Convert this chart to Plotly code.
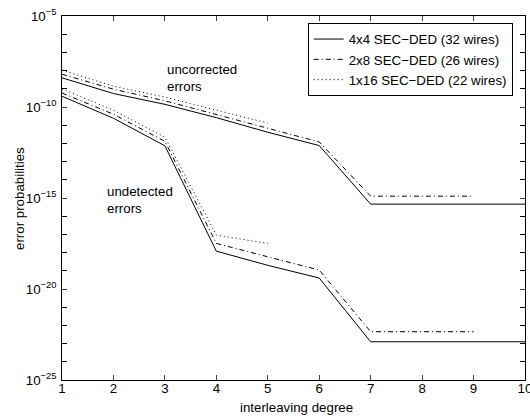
import plotly.graph_objects as go

# interleaving degree
x_4x4 = [1, 2, 3, 4, 5, 6, 7, 8, 9, 10]
x_2x8 = [1, 2, 3, 4, 5, 6, 7, 8, 9]
x_1x16 = [1, 2, 3, 4, 5]

# uncorrected error probabilities
unc_4x4 = [4.0e-9, 5.5e-10, 1.4e-10, 2.6e-11, 4.1e-12, 7.6e-13, 4.6e-16, 4.6e-16, 4.6e-16, 4.6e-16]
unc_2x8 = [6.3e-9, 9.5e-10, 2.2e-10, 4.0e-11, 6.8e-12, 1.2e-12, 1.26e-15, 1.26e-15, 1.26e-15]
unc_1x16 = [1.05e-8, 1.4e-9, 3.5e-10, 6.6e-11, 1.3e-11]

# undetected error probabilities
und_4x4 = [3.9e-10, 2.4e-11, 7.4e-13, 1.2e-18, 2.0e-19, 4.0e-20, 1.26e-23, 1.26e-23, 1.26e-23, 1.26e-23]
und_2x8 = [5.9e-10, 4.0e-11, 1.3e-12, 3.2e-18, 5.9e-19, 1.1e-19, 4.5e-23, 4.5e-23, 4.5e-23]
und_1x16 = [1.0e-9, 6.6e-11, 2.2e-12, 9.1e-18, 3.2e-18]

names = ["4x4 SEC\u2212DED (32 wires)", "2x8 SEC\u2212DED (26 wires)", "1x16 SEC\u2212DED (22 wires)"]

y_major_exp = [-25, -20, -15, -10, -5]
y_labels = [f"10<sup>\u2212{-e}</sup>" for e in y_major_exp]
y_minor_exp = list(range(-25, -4))
x_ticks = [1, 2, 3, 4, 5, 6, 7, 8, 9, 10]

FONT = "Liberation Sans, Arial, Helvetica, sans-serif"
FS = 13.3

fig = go.Figure()
styles = [("solid", x_4x4, unc_4x4, und_4x4),
          ("5px,3px,1px,3px", x_2x8, unc_2x8, und_2x8),
          ("1px,3px", x_1x16, unc_1x16, und_1x16)]
for (dash, xs, unc, und), name in zip(styles, names):
    fig.add_trace(go.Scatter(x=xs, y=unc, mode="lines", name=name, legendgroup=name,
                             line=dict(color="black", width=1, dash=dash)))
    fig.add_trace(go.Scatter(x=xs, y=und, mode="lines", name=name, legendgroup=name,
                             showlegend=False, line=dict(color="black", width=1, dash=dash)))

# in-plot labels (log10 y positions)
for txt, xv, yv in [("uncorrected<br>errors", 3.03, -8.42),
                    ("undetected<br>errors", 1.85, -15.10)]:
    fig.add_annotation(x=xv, y=yv, xref="x", yref="y", text=txt,
                       showarrow=False, xanchor="left", yanchor="middle", align="left",
                       borderpad=0,
                       font=dict(family=FONT, size=FS, color="black"))
# axis titles
fig.add_annotation(x=0.5054, y=-0.0755, xref="paper", yref="paper", text="interleaving degree",
                   showarrow=False, xanchor="center", yanchor="middle",
                   font=dict(family=FONT, size=FS, color="black"))
fig.add_annotation(x=-0.0929, y=0.5, xref="paper", yref="paper", text="error probabilities",
                   showarrow=False, xanchor="center", yanchor="middle", textangle=-90,
                   font=dict(family=FONT, size=FS, color="black"))

fig.update_layout(
    width=530, height=419,
    margin=dict(l=62, r=5, t=16, b=39),
    paper_bgcolor="white", plot_bgcolor="white",
    font=dict(family=FONT, size=FS, color="black"),
    legend=dict(x=0.5307, y=0.981, xanchor="left", yanchor="top",
                bordercolor="black", borderwidth=1, bgcolor="white",
                entrywidth=186, entrywidthmode="pixels",
                font=dict(family=FONT, size=FS), tracegroupgap=0),
    xaxis=dict(range=[1, 10], tickvals=x_ticks, ticks="inside", ticklen=5,
               showline=True, linecolor="black", linewidth=1, mirror="ticks",
               showgrid=False, zeroline=False, automargin=False,
               ticklabelstandoff=-4, ticklabeloverflow="allow"),
    yaxis=dict(type="log", range=[-25, -5],
               tickvals=[10.0 ** e for e in y_major_exp], ticktext=y_labels,
               ticks="inside", ticklen=5,
               minor=dict(tickvals=[10.0 ** e for e in y_minor_exp], ticks="inside",
                          ticklen=5, tickcolor="black", showgrid=False),
               showline=True, linecolor="black", linewidth=1, mirror="ticks",
               showgrid=False, zeroline=False, automargin=False,
               ticklabelstandoff=2),
)

fig.write_html("out.html", config={"displayModeBar": False},
               post_script="document.body.style.margin='0';document.body.style.overflow='hidden';")
